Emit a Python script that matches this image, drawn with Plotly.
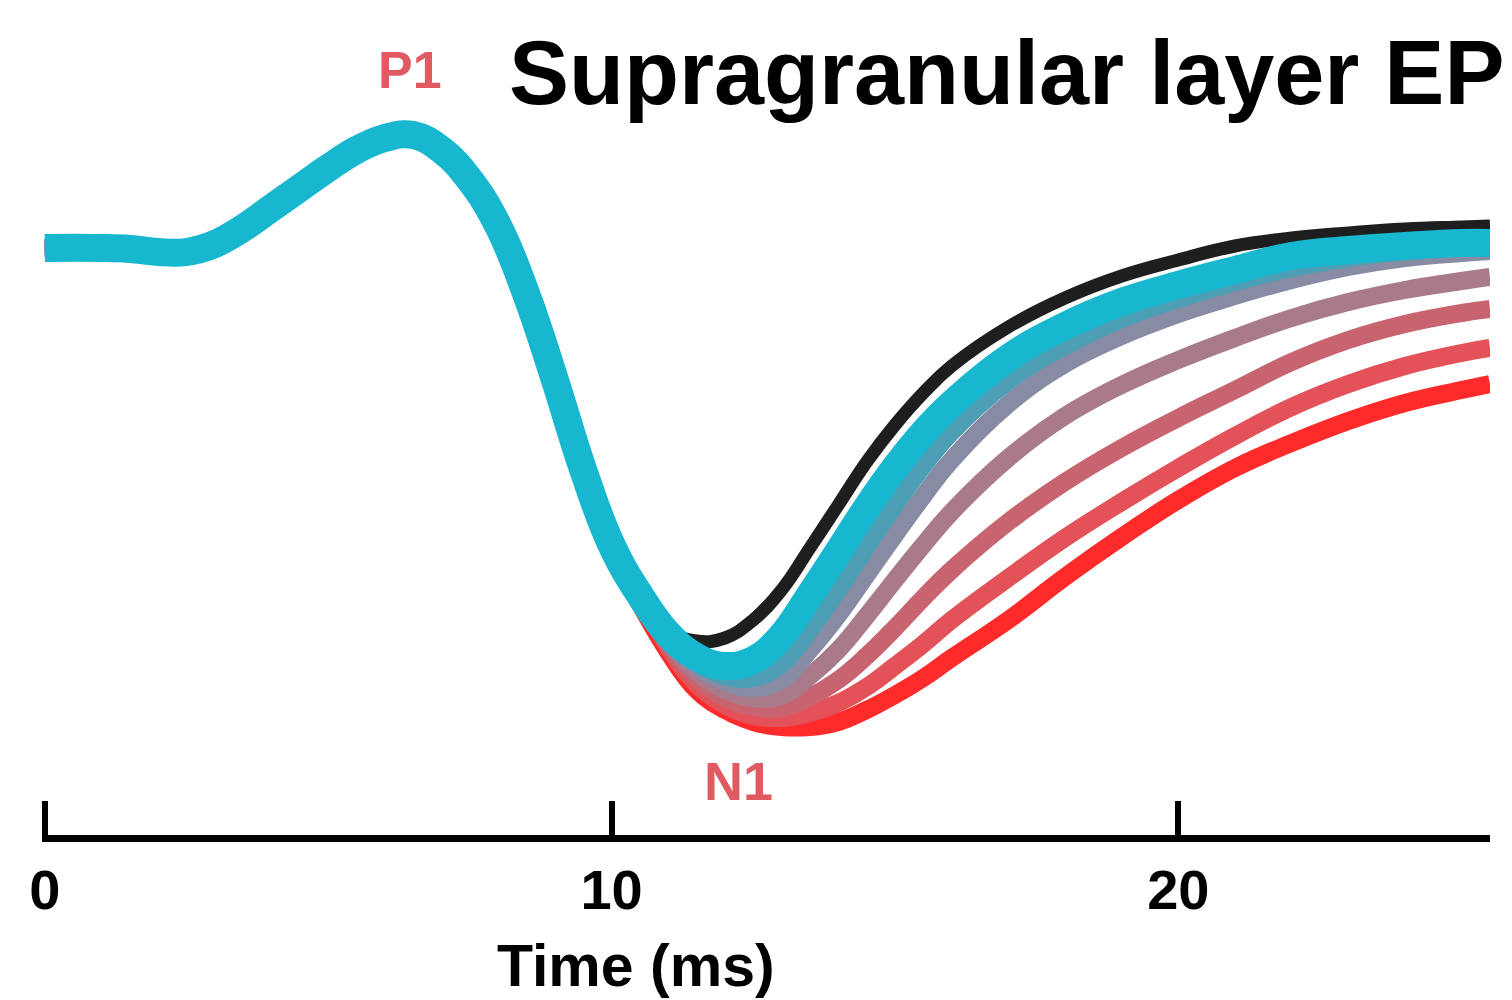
import plotly.graph_objects as go

# Time axis (ms)
time_ms = [0, 1, 1.5, 2, 2.5, 3, 3.5, 4, 4.5, 5, 5.5, 6, 6.5, 7, 7.5, 8, 8.5, 9, 9.5, 10, 10.5,
           11, 11.5, 12, 12.5, 13, 13.5, 14, 14.5, 15, 15.5, 16, 17, 18, 19, 20, 21, 22, 23, 24, 25, 25.5]

# Shared early part of the evoked potential (arbitrary units)
early = [0, 0, -0.01, -0.04, -0.04, 0.04, 0.20, 0.40, 0.60, 0.80, 0.98, 1.10, 1.13, 0.98, 0.68,
         0.22, -0.47, -1.32, -2.22, -2.97, -3.47]

black_late = [-3.82, -3.93, -3.90, -3.72, -3.42, -3.00, -2.57, -2.14, -1.77, -1.45, -1.18, -0.79,
              -0.50, -0.28, -0.12, 0.02, 0.10, 0.15, 0.19, 0.21, 0.22]
cyan_late = [-3.86, -4.09, -4.18, -4.12, -3.88, -3.47, -3.04, -2.60, -2.20, -1.85, -1.56, -1.10,
             -0.78, -0.54, -0.37, -0.22, -0.08, -0.02, 0.02, 0.05, 0.05]
steel_late = [-3.88, -4.14, -4.28, -4.30, -4.16, -3.82, -3.42, -2.99, -2.57, -2.18, -1.84, -1.33,
              -0.98, -0.71, -0.51, -0.34, -0.20, -0.10, -0.03, 0.01, 0.02]
gray_late = [-3.90, -4.18, -4.34, -4.40, -4.32, -4.02, -3.67, -3.27, -2.87, -2.48, -2.12, -1.56,
             -1.16, -0.88, -0.66, -0.48, -0.32, -0.19, -0.10, -0.05, -0.03]
mauve_late = [-3.93, -4.24, -4.42, -4.50, -4.48, -4.28, -4.02, -3.68, -3.32, -2.97, -2.64, -2.10,
              -1.68, -1.37, -1.12, -0.90, -0.70, -0.54, -0.42, -0.33, -0.29]
rosy_late = [-3.96, -4.30, -4.50, -4.59, -4.60, -4.49, -4.32, -4.08, -3.80, -3.50, -3.22, -2.74,
             -2.34, -2.00, -1.70, -1.42, -1.14, -0.92, -0.76, -0.65, -0.61]
pink_late = [-3.99, -4.36, -4.57, -4.68, -4.70, -4.65, -4.55, -4.39, -4.18, -3.96, -3.72, -3.30,
             -2.90, -2.54, -2.20, -1.88, -1.59, -1.36, -1.18, -1.05, -1.00]
red_late = [-4.04, -4.42, -4.62, -4.74, -4.79, -4.79, -4.74, -4.62, -4.47, -4.30, -4.10, -3.72,
            -3.29, -2.89, -2.52, -2.20, -1.95, -1.73, -1.55, -1.42, -1.36]
red_early = [0, 0, -0.01, -0.04, -0.04, 0.04, 0.20, 0.40, 0.60, 0.80, 0.98, 1.10, 1.13, 0.98, 0.66,
             0.18, -0.52, -1.38, -2.28, -3.04, -3.56]

series = [
    ("red", red_early + red_late, "#ff2b2b", 18),
    ("pink", early + pink_late, "#e25258", 18),
    ("rosy", early + rosy_late, "#c8646f", 18),
    ("mauve", early + mauve_late, "#a97a8a", 18),
    ("gray", early + gray_late, "#878ba3", 18),
    ("steel", early + steel_late, "#4c9fb5", 18),
    ("black", early + black_late, "#1e1e1e", 13),
    ("cyan", early + cyan_late, "#17b7d0", 28),
]

x_ticks = [0, 10, 20]
x_tick_labels = ["0", "10", "20"]

fig = go.Figure()
for name, vals, col, w in series:
    fig.add_trace(go.Scatter(x=time_ms, y=vals, mode="lines", name=name,
                             line=dict(color=col, width=w, shape="spline", smoothing=1.2),
                             showlegend=False, hoverinfo="skip"))

W, H = 1512, 1000
ml, mr, mt, mb = 42, 22, 40, 165
pw, ph = W - ml - mr, H - mt - mb


def px2paper(px, py):
    return (px - ml) / pw, (H - mb - py) / ph


font_family = "Liberation Sans, Arial, sans-serif"

annots = [
    ("<b>Supragranular layer EP</b>", 1006, 73, 90, "black"),
    ("<b>P1</b>", 410, 70, 52, "#e05a62"),
    ("<b>N1</b>", 738, 781, 54, "#e05a62"),
    ("<b>Time (ms)</b>", 636, 966, 59, "black"),
]
for txt, px, py, size, col in annots:
    xp, yp = px2paper(px, py)
    fig.add_annotation(x=xp, y=yp, xref="paper", yref="paper", text=txt, showarrow=False,
                       xanchor="center", yanchor="middle",
                       font=dict(family=font_family, size=size, color=col))

fig.update_layout(
    width=W, height=H,
    margin=dict(l=ml, r=mr, t=mt, b=mb, pad=0),
    paper_bgcolor="white", plot_bgcolor="white",
    xaxis=dict(range=[-0.05, 25.5], showgrid=False, zeroline=False, showline=True,
               linecolor="black", linewidth=7, ticks="inside", ticklen=34, tickwidth=6,
               tickcolor="black", tickvals=x_ticks, ticktext=["<b>%s</b>" % t for t in x_tick_labels],
               tickfont=dict(family=font_family, size=56, color="black"),
               ticklabelstandoff=0),
    yaxis=dict(range=[-5.87, 2.08], visible=False, showgrid=False, zeroline=False),
)

fig.write_html("out.html")
